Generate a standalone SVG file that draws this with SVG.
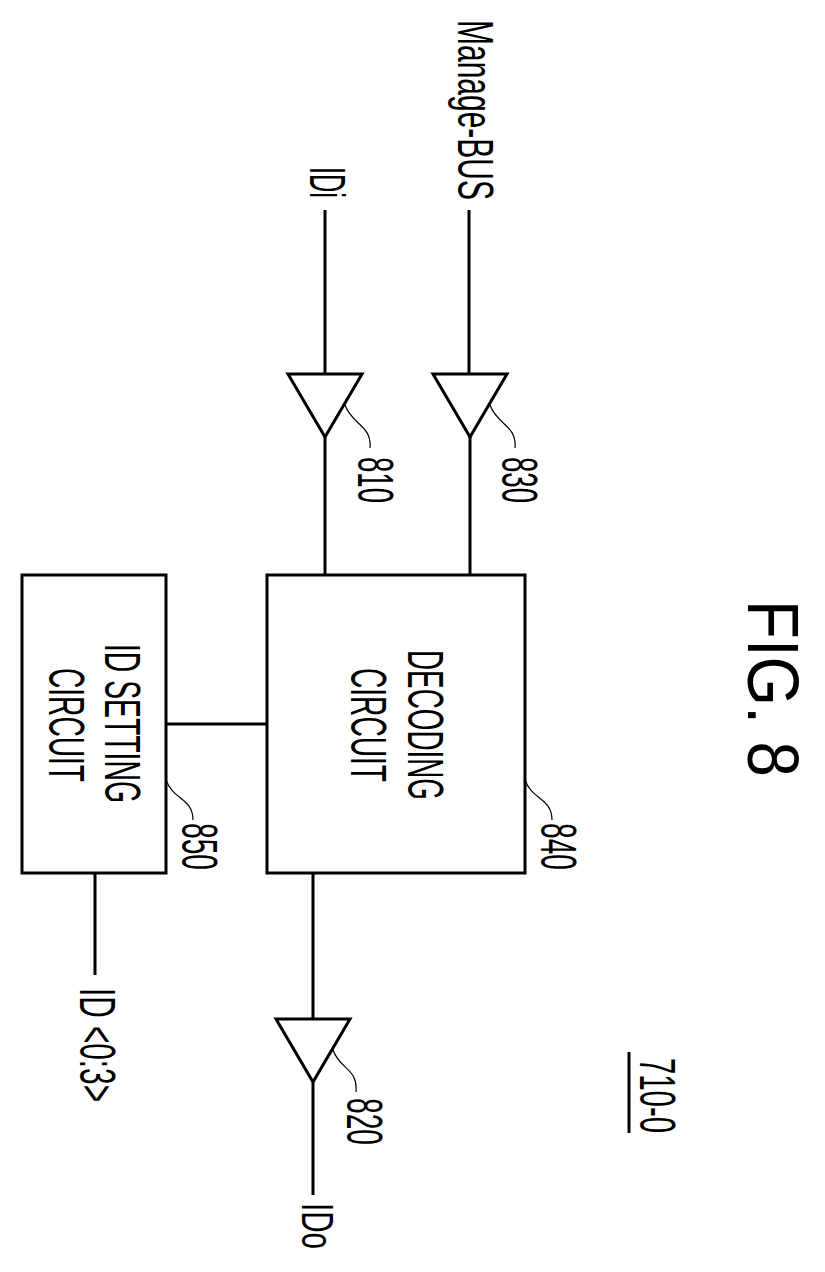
<svg xmlns="http://www.w3.org/2000/svg" width="825" height="1272" viewBox="0 0 825 1272">
<style>
.s{fill:none;stroke:#000;stroke-width:3}
.l{fill:none;stroke:#000;stroke-width:1.2}
text{font-family:"Liberation Sans",Arial,sans-serif;font-size:50px;fill:#000}
</style>
<rect width="825" height="1272" fill="#fff"/>
<g id="connectors">
<path class="s" d="M325 210V374M469 210V374M325 437V575M470 437V575M166 724H267M95 873V975M313 873V1019M313 1082V1195"/>
<path class="l" d="M345 405C352 425 372 425 370 448M490 405C497 425 517 425 515 448M333 1050C340 1070 358 1068 356 1092M525 780C532 800 552 798 552 820M166 780C173 800 193 798 193 820"/>
</g>
<g id="buf810"><polygon class="s" points="288,374 362,374 325,437"/><text transform="translate(358,457) rotate(90)" textLength="46" lengthAdjust="spacingAndGlyphs">810</text></g>
<g id="buf830"><polygon class="s" points="433,374 507,374 470,437"/><text transform="translate(502,457) rotate(90)" textLength="46" lengthAdjust="spacingAndGlyphs">830</text></g>
<g id="buf820"><polygon class="s" points="276,1019 350,1019 313,1082"/><text transform="translate(347,1098) rotate(90)" textLength="47" lengthAdjust="spacingAndGlyphs">820</text></g>
<g id="dec840"><rect class="s" x="267" y="575" width="258" height="298"/>
<text transform="translate(408,650) rotate(90)" textLength="150" lengthAdjust="spacingAndGlyphs">DECODING</text>
<text transform="translate(351,668) rotate(90)" textLength="114" lengthAdjust="spacingAndGlyphs">CIRCUIT</text>
<text transform="translate(541,823) rotate(90)" textLength="47" lengthAdjust="spacingAndGlyphs">840</text></g>
<g id="id850"><rect class="s" x="22" y="575" width="144" height="298"/>
<text transform="translate(105,644) rotate(90)" textLength="159" lengthAdjust="spacingAndGlyphs">ID SETTING</text>
<text transform="translate(49,668) rotate(90)" textLength="114" lengthAdjust="spacingAndGlyphs">CIRCUIT</text>
<text transform="translate(182,823) rotate(90)" textLength="47" lengthAdjust="spacingAndGlyphs">850</text></g>
<g id="labels">
<text transform="translate(458,20) rotate(90)" textLength="180" lengthAdjust="spacingAndGlyphs">Manage-BUS</text>
<text transform="translate(310,167) rotate(90)" textLength="31" lengthAdjust="spacingAndGlyphs">IDi</text>
<text transform="translate(80,988) rotate(90)" textLength="114" lengthAdjust="spacingAndGlyphs">ID &lt;0:3&gt;</text>
<text transform="translate(302,1203) rotate(90)" style="font-size:44px" textLength="46" lengthAdjust="spacingAndGlyphs">IDo</text>
<text transform="translate(640,1058) rotate(90)" textLength="75" lengthAdjust="spacingAndGlyphs">710-0</text>
<path class="s" d="M629 1052V1133" stroke-width="2"/>
<text transform="translate(748,600) rotate(90)" style="font-size:72px" textLength="177" lengthAdjust="spacingAndGlyphs">FIG. 8</text>
</g>
</svg>
